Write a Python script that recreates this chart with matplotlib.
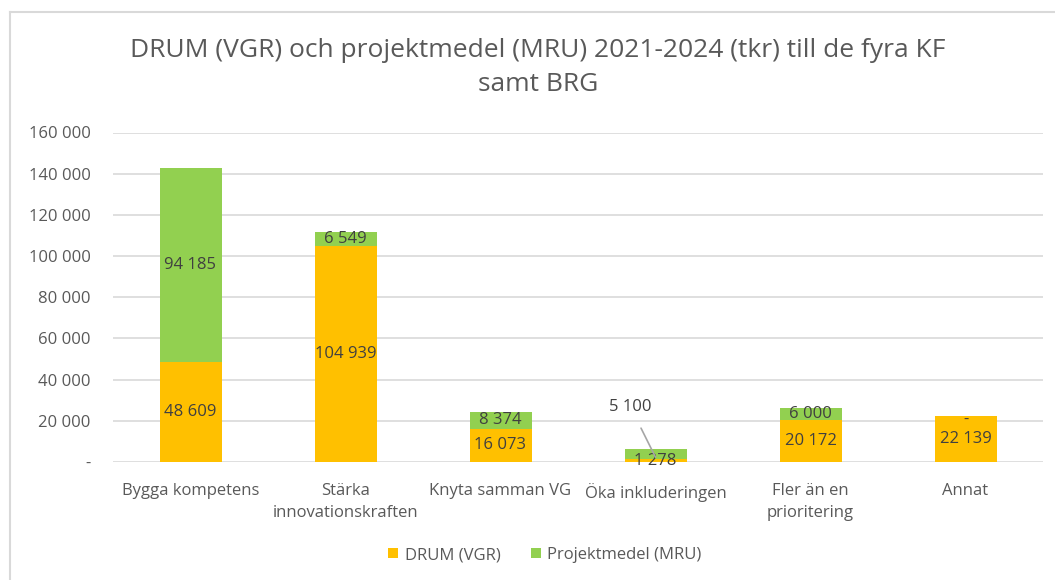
import numpy as np
import matplotlib
matplotlib.use("Agg")
from matplotlib import pyplot as plt
from matplotlib.ticker import FuncFormatter

categories = ["Bygga kompetens", "Stärka\ninnovationskraften", "Knyta samman VG",
              "Öka inkluderingen", "Fler än en\nprioritering", "Annat"]
drum = [48609, 104939, 16073, 1278, 20172, 22139]
mru = [94185, 6549, 8374, 5100, 6000, 0]

yticks = np.arange(0, 160001, 20000)


def fmt(v):
    if v == 0:
        return "-"
    return f"{int(v):,}".replace(",", " ")


plt.rcParams['font.family'] = ['Open Sans', 'DejaVu Sans']
grey = "#595959"
dark = "#404040"

fig = plt.figure(figsize=(10.55, 5.8), dpi=100)
ax = fig.add_axes([113 / 1055, 1 - 462 / 580, 930 / 1055, (462 - 132.5) / 580])

x = np.arange(len(categories))
ax.bar(x, drum, width=0.4, color="#FFC000", label="DRUM (VGR)", zorder=3)
ax.bar(x, mru, width=0.4, bottom=drum, color="#92D050", label="Projektmedel (MRU)", zorder=3)

ax.set_xlim(-0.5, len(categories) - 0.5)
ax.set_ylim(0, 160000)
ax.set_yticks(yticks)
ax.yaxis.set_major_formatter(FuncFormatter(lambda v, p: fmt(v)))
ax.set_xticks(x)
ax.set_xticklabels(categories, fontsize=12, color=grey, linespacing=1.55)
ax.tick_params(axis="y", labelsize=12, colors=grey, length=0, pad=16)
ax.tick_params(axis="x", length=0, pad=15)
ax.grid(axis="y", color="#d9d9d9", linewidth=1.2, zorder=0)
for s in ax.spines.values():
    s.set_visible(False)

# data labels
for i in range(len(categories)):
    ax.text(x[i], drum[i] / 2, fmt(drum[i]), ha="center", va="center",
            fontsize=12, color=dark, zorder=4)
    if i == 3:
        # label moved out with leader line
        ax.annotate(fmt(mru[i]), xy=(x[i], drum[i] + mru[i] / 2 - 1500),
                    xytext=(x[i] - 0.16, 26500), ha="center", va="center",
                    fontsize=12, color=dark, zorder=4,
                    arrowprops=dict(arrowstyle="-", color="#a6a6a6", lw=1.2,
                                    shrinkA=8, shrinkB=0))
    elif mru[i] == 0:
        ax.text(x[i], drum[i] - 1800, fmt(mru[i]), ha="center", va="center",
                fontsize=12, color=dark, zorder=4)
    else:
        ax.text(x[i], drum[i] + mru[i] / 2, fmt(mru[i]), ha="center", va="center",
                fontsize=12, color=dark, zorder=4)

fig.text(0.51, 0.884, "DRUM (VGR) och projektmedel (MRU) 2021-2024 (tkr) till de fyra KF\nsamt BRG",
         ha="center", va="center", fontsize=19, color=grey, linespacing=1.5)

fig.legend(loc="center", bbox_to_anchor=(545 / 1055, 1 - 555 / 580), ncol=2,
           frameon=False, fontsize=12, labelcolor=grey, handlelength=0.6,
           handleheight=0.6, handletextpad=0.4, columnspacing=1.8)

# chart border (top and left visible)
fig.add_artist(plt.Line2D([10 / 1055, 10 / 1055], [0, 1 - 12 / 580], color="#d9d9d9", lw=1.5))
fig.add_artist(plt.Line2D([10 / 1055, 1], [1 - 12 / 580, 1 - 12 / 580], color="#d9d9d9", lw=1.5))

fig.savefig("out.png", dpi=100, facecolor="white")
